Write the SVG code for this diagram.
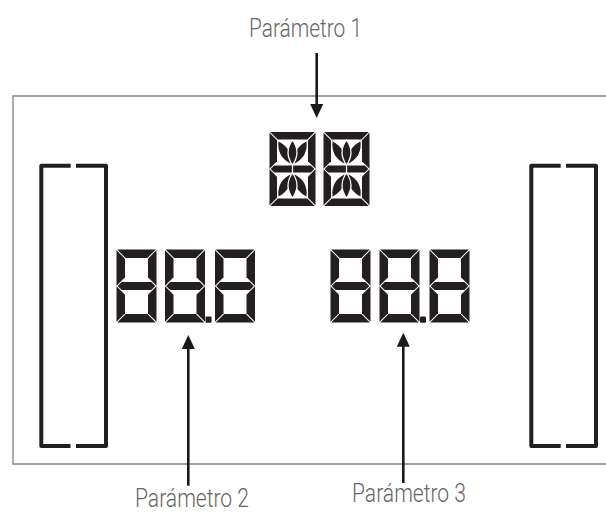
<svg xmlns="http://www.w3.org/2000/svg" width="606" height="512" viewBox="0 0 606 512">
  <style>
    .frame { fill: none; stroke: #808080; stroke-width: 1.3px; }
    .bracket { fill: none; stroke: #231f20; stroke-width: 4px; stroke-linejoin: round; }
    .arrow { fill: none; stroke: #1a1a1a; stroke-width: 2.6px; }
    .seg { fill: #231f20; stroke: none; }
    .leaf { fill: #231f20; stroke: #ffffff; stroke-width: 1.2px; }
    .label { font-family: Roboto, "Liberation Sans", sans-serif; font-weight: 300; font-size: 26px; fill: #666666; }
  </style>
  <defs>
    <marker id="head" markerUnits="userSpaceOnUse" viewBox="0 0 14 13" markerWidth="14" markerHeight="13" refX="2" refY="6.5" orient="auto">
      <path d="M0,0 L14,6.5 L0,13 Z" fill="#1a1a1a"/>
    </marker>
  </defs>

  <g id="panel">
    <path class="frame" d="M606,96 H13 V464 H606"/>
  </g>

  <g id="left-bar">
    <path class="bracket" d="M70.7,165.7 H41.3 V446 H70.5"/>
    <path class="bracket" d="M76,165.7 H106 V446 H76"/>
  </g>

  <g id="right-bar">
    <path class="bracket" d="M560.7,165.7 H531.3 V446 H560.7"/>
    <path class="bracket" d="M566,165.7 H596 V446 H566"/>
  </g>

  <g id="parametro-1">
    <g class="seg" transform="translate(269.5,132)">
      <path d="M0.7,0 H45.3 L37.8,7.5 H8.2 Z"/>
      <path d="M0.7,74 H45.3 L37.8,66.5 H8.2 Z"/>
      <path d="M0,0.7 L7.5,8.2 V29.3 L0,36.8 Z"/>
      <path d="M0,37.2 L7.5,44.7 V65.8 L0,73.3 Z"/>
      <path d="M46,0.7 L38.5,8.2 V29.3 L46,36.8 Z"/>
      <path d="M46,37.2 L38.5,44.7 V65.8 L46,73.3 Z"/>
      <path d="M1.2,37 L4.7,33.5 H22.4 V40.5 H4.7 Z"/>
      <path d="M44.8,37 L41.3,33.5 H23.6 V40.5 H41.3 Z"/>
      <path class="leaf" d="M8.5,8.5 Q23.79,15.74 21.5,32.5 Q6.21,25.26 8.5,8.5 Z"/>
      <path class="leaf" d="M37.5,8.5 Q22.21,15.74 24.5,32.5 Q39.79,25.26 37.5,8.5 Z"/>
      <path class="leaf" d="M8.5,65.5 Q23.79,58.26 21.5,41.5 Q6.21,48.74 8.5,65.5 Z"/>
      <path class="leaf" d="M37.5,65.5 Q22.21,58.26 24.5,41.5 Q39.79,48.74 37.5,65.5 Z"/>
      <path class="leaf" d="M23,8 Q32,20.5 23,33 Q14,20.5 23,8 Z"/>
      <path class="leaf" d="M23,66 Q32,53.5 23,41 Q14,53.5 23,66 Z"/>
    </g>
    <g class="seg" transform="translate(323.5,132)">
      <path d="M0.7,0 H45.3 L37.8,7.5 H8.2 Z"/>
      <path d="M0.7,74 H45.3 L37.8,66.5 H8.2 Z"/>
      <path d="M0,0.7 L7.5,8.2 V29.3 L0,36.8 Z"/>
      <path d="M0,37.2 L7.5,44.7 V65.8 L0,73.3 Z"/>
      <path d="M46,0.7 L38.5,8.2 V29.3 L46,36.8 Z"/>
      <path d="M46,37.2 L38.5,44.7 V65.8 L46,73.3 Z"/>
      <path d="M1.2,37 L4.7,33.5 H22.4 V40.5 H4.7 Z"/>
      <path d="M44.8,37 L41.3,33.5 H23.6 V40.5 H41.3 Z"/>
      <path class="leaf" d="M8.5,8.5 Q23.79,15.74 21.5,32.5 Q6.21,25.26 8.5,8.5 Z"/>
      <path class="leaf" d="M37.5,8.5 Q22.21,15.74 24.5,32.5 Q39.79,25.26 37.5,8.5 Z"/>
      <path class="leaf" d="M8.5,65.5 Q23.79,58.26 21.5,41.5 Q6.21,48.74 8.5,65.5 Z"/>
      <path class="leaf" d="M37.5,65.5 Q22.21,58.26 24.5,41.5 Q39.79,48.74 37.5,65.5 Z"/>
      <path class="leaf" d="M23,8 Q32,20.5 23,33 Q14,20.5 23,8 Z"/>
      <path class="leaf" d="M23,66 Q32,53.5 23,41 Q14,53.5 23,66 Z"/>
    </g>
    <text class="label" x="249" y="36.5" textLength="113" lengthAdjust="spacingAndGlyphs">Parámetro 1</text>
  </g>

  <g id="parametro-2">
    <g class="seg" transform="translate(116.5,249.5)">
      <path d="M0.7,0 H39.3 L30.8,8.5 H9.2 Z"/>
      <path d="M0.7,73 H39.3 L30.8,64.5 H9.2 Z"/>
      <path d="M0,0.7 L8.5,9.2 V27.8 L0,36.3 Z"/>
      <path d="M0,36.7 L8.5,45.2 V63.8 L0,72.3 Z"/>
      <path d="M40,0.7 L31.5,9.2 V27.8 L40,36.3 Z"/>
      <path d="M40,36.7 L31.5,45.2 V63.8 L40,72.3 Z"/>
      <path d="M1.2,36.5 L5.2,32.5 H34.8 L38.8,36.5 L34.8,40.5 H5.2 Z"/>
    </g>
    <g class="seg" transform="translate(165,249.5)">
      <path d="M0.7,0 H39.3 L30.8,8.5 H9.2 Z"/>
      <path d="M0.7,73 H39.3 L30.8,64.5 H9.2 Z"/>
      <path d="M0,0.7 L8.5,9.2 V27.8 L0,36.3 Z"/>
      <path d="M0,36.7 L8.5,45.2 V63.8 L0,72.3 Z"/>
      <path d="M40,0.7 L31.5,9.2 V27.8 L40,36.3 Z"/>
      <path d="M40,36.7 L31.5,45.2 V63.8 L40,72.3 Z"/>
      <path d="M1.2,36.5 L5.2,32.5 H34.8 L38.8,36.5 L34.8,40.5 H5.2 Z"/>
    </g>
    <g class="seg" transform="translate(215,249.5)">
      <path d="M0.7,0 H39.3 L30.8,8.5 H9.2 Z"/>
      <path d="M0.7,73 H39.3 L30.8,64.5 H9.2 Z"/>
      <path d="M0,0.7 L8.5,9.2 V27.8 L0,36.3 Z"/>
      <path d="M0,36.7 L8.5,45.2 V63.8 L0,72.3 Z"/>
      <path d="M40,0.7 L31.5,9.2 V27.8 L40,36.3 Z"/>
      <path d="M40,36.7 L31.5,45.2 V63.8 L40,72.3 Z"/>
      <path d="M1.2,36.5 L5.2,32.5 H34.8 L38.8,36.5 L34.8,40.5 H5.2 Z"/>
    </g>
    <rect class="seg" x="205.5" y="316.5" width="6" height="6.2" rx="1"/>
    <text class="label" x="135" y="506.5" textLength="114" lengthAdjust="spacingAndGlyphs">Parámetro 2</text>
  </g>

  <g id="parametro-3">
    <g class="seg" transform="translate(330.5,249.5)">
      <path d="M0.7,0 H39.3 L30.8,8.5 H9.2 Z"/>
      <path d="M0.7,73 H39.3 L30.8,64.5 H9.2 Z"/>
      <path d="M0,0.7 L8.5,9.2 V27.8 L0,36.3 Z"/>
      <path d="M0,36.7 L8.5,45.2 V63.8 L0,72.3 Z"/>
      <path d="M40,0.7 L31.5,9.2 V27.8 L40,36.3 Z"/>
      <path d="M40,36.7 L31.5,45.2 V63.8 L40,72.3 Z"/>
      <path d="M1.2,36.5 L5.2,32.5 H34.8 L38.8,36.5 L34.8,40.5 H5.2 Z"/>
    </g>
    <g class="seg" transform="translate(379.5,249.5)">
      <path d="M0.7,0 H39.3 L30.8,8.5 H9.2 Z"/>
      <path d="M0.7,73 H39.3 L30.8,64.5 H9.2 Z"/>
      <path d="M0,0.7 L8.5,9.2 V27.8 L0,36.3 Z"/>
      <path d="M0,36.7 L8.5,45.2 V63.8 L0,72.3 Z"/>
      <path d="M40,0.7 L31.5,9.2 V27.8 L40,36.3 Z"/>
      <path d="M40,36.7 L31.5,45.2 V63.8 L40,72.3 Z"/>
      <path d="M1.2,36.5 L5.2,32.5 H34.8 L38.8,36.5 L34.8,40.5 H5.2 Z"/>
    </g>
    <g class="seg" transform="translate(429.5,249.5)">
      <path d="M0.7,0 H39.3 L30.8,8.5 H9.2 Z"/>
      <path d="M0.7,73 H39.3 L30.8,64.5 H9.2 Z"/>
      <path d="M0,0.7 L8.5,9.2 V27.8 L0,36.3 Z"/>
      <path d="M0,36.7 L8.5,45.2 V63.8 L0,72.3 Z"/>
      <path d="M40,0.7 L31.5,9.2 V27.8 L40,36.3 Z"/>
      <path d="M40,36.7 L31.5,45.2 V63.8 L40,72.3 Z"/>
      <path d="M1.2,36.5 L5.2,32.5 H34.8 L38.8,36.5 L34.8,40.5 H5.2 Z"/>
    </g>
    <rect class="seg" x="420" y="316.5" width="6" height="6.2" rx="1"/>
    <text class="label" x="352" y="501.5" textLength="114" lengthAdjust="spacingAndGlyphs">Parámetro 3</text>
  </g>

  <g id="connectors">
    <line class="arrow" x1="316.7" y1="53" x2="316.7" y2="106" marker-end="url(#head)"/>
    <line class="arrow" x1="188.3" y1="485.7" x2="188.3" y2="347" marker-end="url(#head)"/>
    <line class="arrow" x1="403.3" y1="483" x2="403.3" y2="344.7" marker-end="url(#head)"/>
  </g>
</svg>
